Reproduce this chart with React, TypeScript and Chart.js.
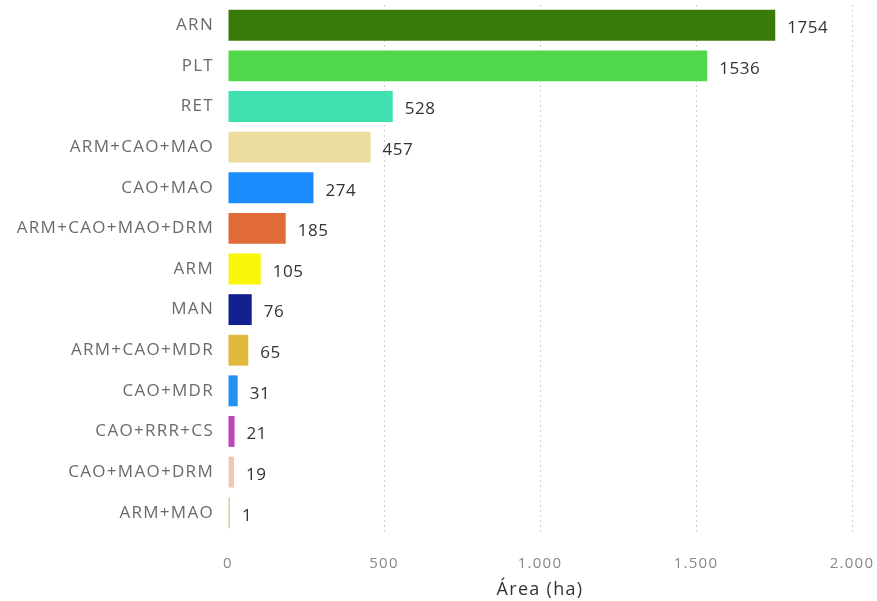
import React, { useEffect, useRef } from "react";
import { Chart, registerables } from "chart.js";

Chart.register(...registerables);

const categories = [
  "ARN",
  "PLT",
  "RET",
  "ARM+CAO+MAO",
  "CAO+MAO",
  "ARM+CAO+MAO+DRM",
  "ARM",
  "MAN",
  "ARM+CAO+MDR",
  "CAO+MDR",
  "CAO+RRR+CS",
  "CAO+MAO+DRM",
  "ARM+MAO",
];
const areaValues = [1754, 1536, 528, 457, 274, 185, 105, 76, 65, 31, 21, 19, 1];
const barColors = [
  "#3a7a08",
  "#50d84a",
  "#40e0b0",
  "#ecdc9e",
  "#1a8aff",
  "#e06a38",
  "#faf60a",
  "#11208e",
  "#e0b83c",
  "#2290f0",
  "#c044b4",
  "#eec8b4",
  "#ccd494",
];
const xTickValues = [0, 500, 1000, 1500, 2000];
const xTitle = "Área (ha)";

const FONT = "'Open Sans', 'Noto Sans', sans-serif";

const spacing = {
  id: "spacing",
  beforeUpdate(chart: any) {
    chart.ctx.letterSpacing = "1.3px";
  },
  beforeDraw(chart: any) {
    chart.ctx.letterSpacing = "1.3px";
  },
};

const valueLabels = {
  id: "valueLabels",
  afterDatasetsDraw(chart: any) {
    const { ctx } = chart;
    const meta = chart.getDatasetMeta(0);
    ctx.save();
    ctx.letterSpacing = "0.5px";
    ctx.font = `17px ${FONT}`;
    ctx.fillStyle = "#333333";
    ctx.textAlign = "left";
    ctx.textBaseline = "middle";
    meta.data.forEach((bar: any, i: number) => {
      const v = chart.data.datasets[0].data[i];
      ctx.fillText(String(v), bar.x + 12, bar.y + 3);
    });
    ctx.restore();
  },
};

export default function App() {
  const ref = useRef<HTMLCanvasElement | null>(null);
  useEffect(() => {
    if (!ref.current) return;
    const chart = new Chart(ref.current, {
      type: "bar",
      data: {
        labels: categories,
        datasets: [
          {
            data: areaValues,
            backgroundColor: barColors,
            categoryPercentage: 1,
            barPercentage: 0.76,
            minBarLength: 2,
          },
        ],
      },
      options: {
        indexAxis: "y",
        animation: false,
        responsive: false,
        maintainAspectRatio: false,
        layout: { padding: { top: 5, right: 25, bottom: 0, left: 0 } },
        plugins: { legend: { display: false }, tooltip: { enabled: false } },
        scales: {
          x: {
            min: 0,
            max: 2000,
            afterBuildTicks: (scale: any) => {
              scale.ticks = xTickValues.map((v) => ({ value: v }));
            },
            afterFit: (scale: any) => {
              scale.height = 68;
              scale.paddingLeft = 0;
              scale.paddingRight = 0;
            },
            border: { display: false, dash: [2, 3] },
            grid: {
              drawTicks: false,
              color: (c: any) => (c.tick && c.tick.value === 0 ? "rgba(0,0,0,0)" : "#d0d0d0"),
              lineWidth: 1,
            },
            ticks: {
              padding: 22,
              color: "#888888",
              font: { family: FONT, size: 15 },
              callback: (v: any) => Number(v).toLocaleString("de-DE"),
            },
            title: {
              display: true,
              text: xTitle,
              color: "#333333",
              font: { family: FONT, size: 18 },
              padding: { top: 0, bottom: 0 },
            },
          },
          y: {
            afterFit: (scale: any) => {
              scale.width = 228;
              scale.paddingTop = 0;
              scale.paddingBottom = 0;
            },
            border: { display: false },
            grid: { display: false, drawTicks: false },
            ticks: {
              padding: 14,
              color: "#6a6a6a",
              font: { family: FONT, size: 17 },
            },
          },
        },
      } as any,
      plugins: [spacing, valueLabels],
    });
    return () => chart.destroy();
  }, []);
  return (
    <div style={{ position: "fixed", left: 0, top: 0, width: 877, height: 601, background: "#fff" }}>
      <canvas ref={ref} width={877} height={601} style={{ width: 877, height: 601 }} />
    </div>
  );
}
